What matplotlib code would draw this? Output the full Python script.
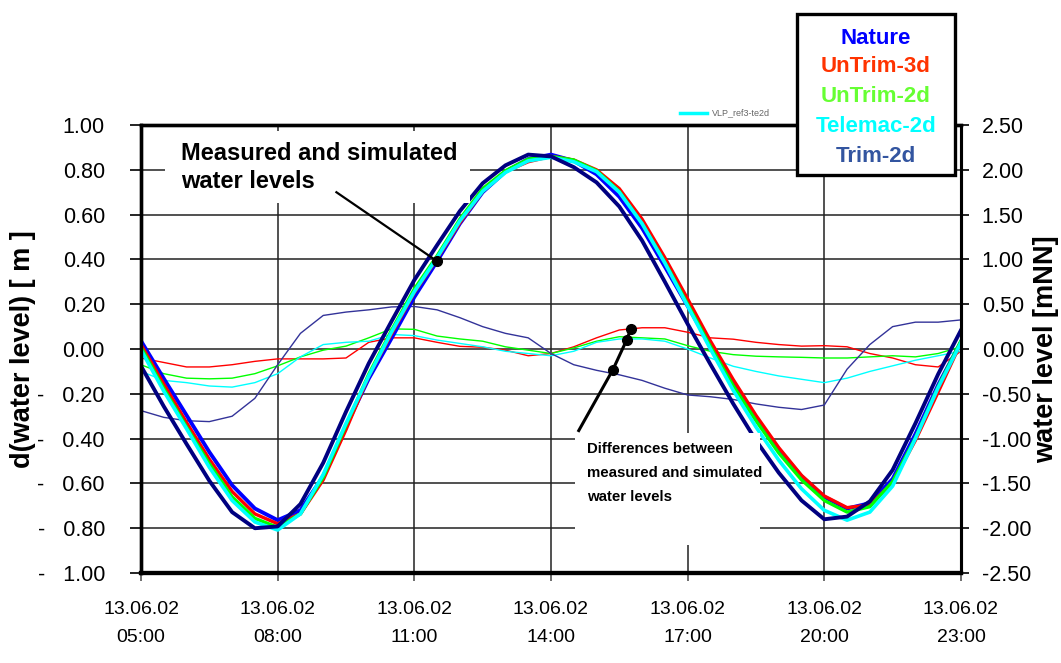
import numpy as np
import matplotlib.pyplot as plt
from matplotlib.patches import Rectangle
from matplotlib.lines import Line2D

plt.rcParams['font.family'] = ['Liberation Sans', 'DejaVu Sans']

# half-hourly samples, 13.06.02 05:00 ... 23:00
hours = np.arange(5.0, 23.01, 0.5)

# water levels [mNN]
nature   = [0.09, -0.33, -0.74, -1.15, -1.52, -1.78, -1.91, -1.80, -1.42, -0.86,
            -0.33, 0.12, 0.58, 0.98, 1.40, 1.75, 1.98, 2.12, 2.17, 2.10,
            1.95, 1.70, 1.35, 0.92, 0.48, 0.04, -0.38, -0.77, -1.12, -1.42,
            -1.65, -1.78, -1.72, -1.45, -0.95, -0.40, 0.08]
untrim3d = [0.05, -0.39, -0.82, -1.23, -1.59, -1.84, -1.95, -1.84, -1.46, -0.90,
            -0.30, 0.17, 0.63, 1.01, 1.41, 1.76, 1.98, 2.09, 2.15, 2.11,
            2.00, 1.79, 1.45, 1.02, 0.56, 0.09, -0.34, -0.74, -1.10, -1.41,
            -1.64, -1.77, -1.74, -1.49, -1.02, -0.48, 0.07]
untrim2d = [0.02, -0.44, -0.87, -1.28, -1.65, -1.89, -1.99, -1.84, -1.43, -0.85,
            -0.28, 0.21, 0.67, 1.04, 1.45, 1.79, 1.99, 2.12, 2.15, 2.11,
            1.99, 1.76, 1.40, 0.97, 0.50, 0.03, -0.41, -0.80, -1.16, -1.46,
            -1.69, -1.82, -1.76, -1.48, -0.99, -0.42, 0.09]
telemac  = [-0.01, -0.47, -0.89, -1.32, -1.69, -1.93, -2.02, -1.84, -1.40, -0.83,
            -0.30, 0.19, 0.64, 1.02, 1.43, 1.76, 1.97, 2.10, 2.14, 2.09,
            1.98, 1.75, 1.40, 0.96, 0.48, 0.00, -0.46, -0.87, -1.24, -1.56,
            -1.80, -1.91, -1.82, -1.53, -1.00, -0.43, 0.07]
trim2d   = [-0.19, -0.64, -1.06, -1.47, -1.82, -2.00, -1.98, -1.73, -1.27, -0.70,
            -0.16, 0.31, 0.77, 1.16, 1.54, 1.85, 2.05, 2.17, 2.15, 2.03,
            1.86, 1.59, 1.21, 0.75, 0.28, -0.17, -0.61, -1.02, -1.38, -1.69,
            -1.90, -1.87, -1.70, -1.35, -0.83, -0.28, 0.21]

# differences simulated - measured [m]
d_untrim3d = [-0.04, -0.06, -0.08, -0.08, -0.07, -0.055, -0.044, -0.044, -0.044, -0.04,
              0.03, 0.05, 0.05, 0.03, 0.012, 0.008, -0.005, -0.03, -0.02, 0.01,
              0.05, 0.085, 0.095, 0.095, 0.075, 0.05, 0.044, 0.03, 0.02, 0.013,
              0.015, 0.01, -0.02, -0.04, -0.07, -0.08, -0.01]
d_untrim2d = [-0.07, -0.11, -0.13, -0.133, -0.13, -0.11, -0.075, -0.035, -0.005, 0.013,
              0.05, 0.09, 0.088, 0.058, 0.045, 0.035, 0.01, -0.005, -0.02, 0.005,
              0.035, 0.055, 0.05, 0.045, 0.015, -0.01, -0.025, -0.032, -0.035, -0.037,
              -0.04, -0.04, -0.035, -0.03, -0.035, -0.02, 0.01]
d_telemac  = [-0.10, -0.14, -0.15, -0.165, -0.17, -0.15, -0.11, -0.035, 0.02, 0.03,
              0.035, 0.065, 0.06, 0.04, 0.025, 0.01, -0.01, -0.02, -0.03, -0.01,
              0.03, 0.045, 0.045, 0.035, 0.0, -0.04, -0.077, -0.10, -0.12, -0.135,
              -0.15, -0.13, -0.10, -0.075, -0.05, -0.03, -0.01]
d_trim2d   = [-0.275, -0.305, -0.32, -0.324, -0.30, -0.22, -0.07, 0.07, 0.15, 0.165,
              0.175, 0.188, 0.19, 0.175, 0.14, 0.10, 0.07, 0.05, -0.02, -0.07,
              -0.095, -0.115, -0.14, -0.175, -0.205, -0.213, -0.225, -0.245, -0.26, -0.27,
              -0.25, -0.09, 0.02, 0.10, 0.12, 0.12, 0.13]

tick_hours  = [5, 8, 11, 14, 17, 20, 23]
tick_labels = ["13.06.02\n05:00", "13.06.02\n08:00", "13.06.02\n11:00", "13.06.02\n14:00",
               "13.06.02\n17:00", "13.06.02\n20:00", "13.06.02\n23:00"]
left_ticks  = [1.0, 0.8, 0.6, 0.4, 0.2, 0.0, -0.2, -0.4, -0.6, -0.8, -1.0]
right_ticks = [2.5, 2.0, 1.5, 1.0, 0.5, 0.0, -0.5, -1.0, -1.5, -2.0, -2.5]

legend_names  = ["Nature", "UnTrim-3d", "UnTrim-2d", "Telemac-2d", "Trim-2d"]
legend_colors = ["#0000FF", "#FF3300", "#66FF33", "#00FFFF", "#3355A0"]


fig = plt.figure(figsize=(10.61, 6.63), dpi=100)
ax = fig.add_axes([0.1329, 0.1357, 0.7728, 0.6757])
ax2 = ax.twinx()

# differences (left axis)
ax.plot(hours, d_untrim3d, color="#FF0000", lw=1.0)
ax.plot(hours, d_untrim2d, color="#00FF00", lw=1.0)
ax.plot(hours, d_telemac, color="#00FFFF", lw=1.0)
ax.plot(hours, d_trim2d, color="#333399", lw=1.0)

# water levels (right axis)
ax2.plot(hours, nature, color="#0000FF", lw=2.8)
ax2.plot(hours, untrim3d, color="#FF0000", lw=2.4)
ax2.plot(hours, untrim2d, color="#00FF00", lw=2.4)
ax2.plot(hours, telemac, color="#00FFFF", lw=2.6)
ax2.plot(hours, trim2d, color="#000080", lw=2.8)

ax.set_xlim(5, 23)
ax.set_ylim(-1, 1)
ax2.set_ylim(-2.5, 2.5)

ax.set_xticks(tick_hours)
ax.set_xticklabels(tick_labels, fontsize=14)
for lbl in ax.get_xticklabels():
    lbl.set_linespacing(1.85)

def left_fmt(v):
    if v < 0:
        return "-   %.2f" % abs(v)
    return "%.2f" % v

ax.set_yticks(left_ticks)
ax.set_yticklabels([left_fmt(v) for v in left_ticks], fontsize=15.5)
ax2.set_yticks(right_ticks)
ax2.set_yticklabels(["%.2f" % v for v in right_ticks], fontsize=15.5)

ax.tick_params(axis='y', direction='out', length=8, width=1.2, pad=18)
ax.tick_params(axis='x', direction='out', length=6, width=1.2, color="#555555", pad=14)
ax2.tick_params(axis='y', direction='out', length=6, width=1.2, pad=9)

ax.grid(True, color="#222222", lw=1.1)

for a in (ax, ax2):
    a.spines['left'].set_linewidth(2.4)
    a.spines['right'].set_linewidth(2.2)
    a.spines['top'].set_linewidth(2.4)
    a.spines['bottom'].set_linewidth(3.0)

ax.set_ylabel("d(water level) [ m ]", fontsize=19.5, fontweight='bold')
ax2.set_ylabel("water level [mNN]", fontsize=19.5, fontweight='bold')
ax.yaxis.set_label_coords(-0.128, 0.5)
ax2.yaxis.set_label_coords(1.088, 0.5)

# annotation: measured and simulated water levels
ax2.add_patch(Rectangle((0.029, 0.826), 0.372, 0.16, transform=ax2.transAxes,
                        facecolor="white", edgecolor="none", zorder=5))
ax2.text(0.049, 0.905, "Measured and simulated\nwater levels", transform=ax2.transAxes,
         fontsize=17, fontweight='bold', va='center', ha='left', linespacing=1.25, zorder=7)
ax2.plot([9.29, 11.5], [1.75, 0.98], color="black", lw=1.6, zorder=6)
ax2.plot([11.5], [0.98], 'o', color="black", ms=7, zorder=6)

# annotation: differences
ax2.add_patch(Rectangle((0.529, 0.0625), 0.226, 0.25, transform=ax2.transAxes,
                        facecolor="white", edgecolor="none", zorder=5))
ax2.text(0.544, 0.223, "Differences between\nmeasured and simulated\nwater levels",
         transform=ax2.transAxes, fontsize=10.8, fontweight='bold', va='center', ha='left',
         linespacing=1.9, zorder=7)
ax2.plot([14.61, 15.36, 15.66, 15.75], [-0.91, -0.23, 0.10, 0.22], color="black", lw=2.2, zorder=6)
ax2.plot([15.36, 15.66, 15.75], [-0.23, 0.10, 0.22], 'o', color="black", ms=7, zorder=6)

# small leftover legend entry
fig.add_artist(Line2D([680 / 1061, 707 / 1061], [1 - 113 / 663, 1 - 113 / 663],
                      color="#00FFFF", lw=2.5))
fig.text(712 / 1061, 1 - 113 / 663, "VLP_ref3-te2d", fontsize=6.5, color="#666666", va='center')

# legend box
fig.add_artist(Rectangle((797 / 1061, 1 - 175 / 663), 158 / 1061, 161 / 663,
                         transform=fig.transFigure, facecolor="white", edgecolor="black",
                         lw=2.4, zorder=10))
legend_y = [38, 67, 97, 127, 156]
for name, col, yy in zip(legend_names, legend_colors, legend_y):
    fig.text(876 / 1061, 1 - yy / 663, name, color=col, fontsize=16, fontweight='bold',
             ha='center', va='center', zorder=11)

fig.savefig("out.png", dpi=100)
